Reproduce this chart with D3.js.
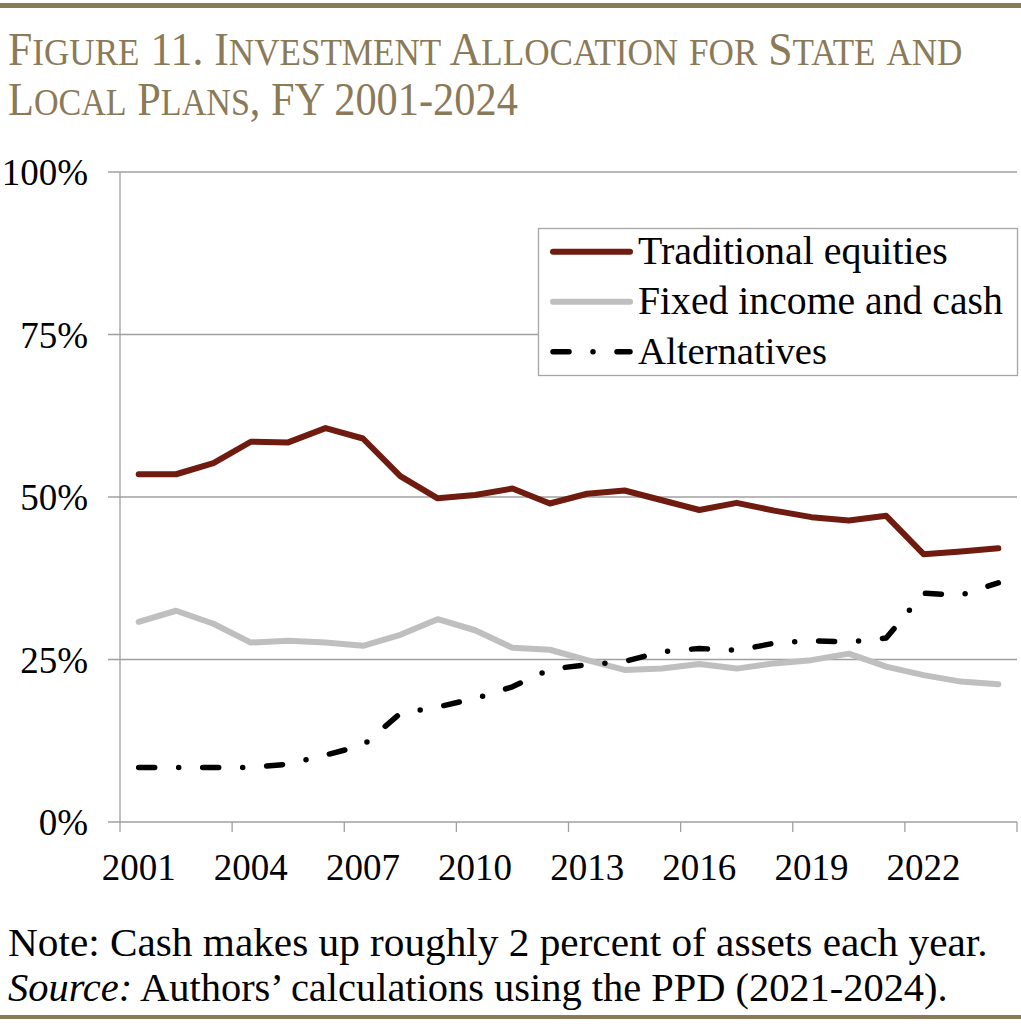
<!DOCTYPE html>
<html>
<head>
<meta charset="utf-8">
<script src="https://cdn.jsdelivr.net/npm/d3@7"></script>
<style>
  body { margin: 0; background: #fff; }
  svg { display: block; }
</style>
</head>
<body>
<div id="chart"></div>
<script>
// Data (percent of assets)
const years = ["2001", "2002", "2003", "2004", "2005", "2006", "2007", "2008",
    "2009", "2010", "2011", "2012", "2013", "2014", "2015", "2016",
    "2017", "2018", "2019", "2020", "2021", "2022", "2023", "2024"];
const tickYears = ["2001", "2004", "2007", "2010", "2013", "2016", "2019", "2022"];
const yTicks = [0, 25, 50, 75, 100];

const traditional = [53.5, 53.5, 55.2, 58.5, 58.4, 60.6, 59.0, 53.2, 49.8, 50.3, 51.3, 49.0,
    50.5, 51.0, 49.5, 48.0, 49.1, 47.9, 46.9, 46.4, 47.1, 41.2, 41.6, 42.1];
const fixedIncome = [30.8, 32.5, 30.5, 27.6, 27.9, 27.6, 27.1, 28.8, 31.2, 29.5, 26.8, 26.5,
    24.9, 23.4, 23.6, 24.3, 23.6, 24.4, 24.9, 25.9, 23.9, 22.6, 21.6, 21.2];
const alternatives = [8.4, 8.4, 8.4, 8.4, 8.9, 10.3, 11.8, 16.7, 17.7, 19.0, 20.8, 23.5,
    24.2, 24.7, 26.2, 26.7, 26.4, 27.5, 27.9, 27.7, 28.3, 35.2, 34.9, 36.8];

const seriesNames = ["Traditional equities", "Fixed income and cash", "Alternatives"];

const titleLines = ["Figure 11. Investment Allocation for State and", "Local Plans, FY 2001-2024"];
const noteText = "Note: Cash makes up roughly 2 percent of assets each year.";
const sourceLabel = "Source:";
const sourceText = " Authors\u2019 calculations using the PPD (2021-2024).";

const W = 1021, H = 1024;
const gold = "#8b7a58";
const serif = "'Liberation Serif', 'Times New Roman', serif";

const svg = d3.select("#chart")
    .append("svg")
    .attr("width", W)
    .attr("height", H)
    .style("font-family", serif);

// Top and bottom rules
svg.append("rect").attr("x", 0).attr("y", 3).attr("width", W).attr("height", 5).attr("fill", gold);
svg.append("rect").attr("x", 0).attr("y", 1015).attr("width", W).attr("height", 4).attr("fill", gold);

// squeeze a text group horizontally to a given width (the original uses a condensed Garamond)
function fitWidth(inner, width) {
    const w = inner.node().getBBox().width;
    inner.attr("transform", `scale(${width / w}, 1)`);
}

// Title in small caps
function smallCaps(text, x, y, width) {
    const outer = svg.append("g").attr("transform", `translate(${x}, ${y})`);
    const inner = outer.append("g");
    const t = inner.append("text").attr("fill", gold);
    const runs = [];
    for (const ch of text) {
        const small = ch !== ch.toUpperCase();
        const last = runs[runs.length - 1];
        if (last && last.small === small) last.s += ch;
        else runs.push({ small: small, s: ch });
    }
    runs.forEach(r => {
        t.append("tspan")
            .attr("font-size", r.small ? 37 : 46)
            .text(r.s.toUpperCase());
    });
    fitWidth(inner, width);
}
smallCaps(titleLines[0], 8, 65, 955);
smallCaps(titleLines[1], 8, 115, 510);

// Scales
const x = d3.scaleBand()
    .domain(years)
    .range([120, 1017])
    .padding(0);

const y = d3.scaleLinear()
    .domain([0, 100])
    .range([822, 172]);

const gridColor = "#a0a0a0";

// Gridlines
svg.append("g")
    .selectAll("line")
    .data(yTicks)
    .enter().append("line")
    .attr("x1", 108)
    .attr("x2", 1017)
    .attr("y1", d => y(d))
    .attr("y2", d => y(d))
    .attr("stroke", gridColor)
    .attr("stroke-width", 1.3);

// Y axis line
svg.append("line")
    .attr("x1", 120).attr("x2", 120)
    .attr("y1", y(100)).attr("y2", y(0))
    .attr("stroke", gridColor)
    .attr("stroke-width", 1.3);

// X tick marks at band edges
const tickEdges = tickYears.map(d => x(d)).concat([x.range()[1]]);
svg.append("g")
    .selectAll("line")
    .data(tickEdges)
    .enter().append("line")
    .attr("x1", d => d).attr("x2", d => d)
    .attr("y1", y(0)).attr("y2", y(0) + 10)
    .attr("stroke", gridColor)
    .attr("stroke-width", 1.3);

// X axis labels
const xAxis = svg.append("g")
    .attr("transform", `translate(0, ${y(0)})`)
    .call(d3.axisBottom(x).tickValues(tickYears).tickSize(0));
xAxis.select(".domain").remove();
xAxis.selectAll("text")
    .attr("y", 58)
    .attr("dy", 0)
    .style("font-family", serif)
    .style("font-size", "37px")
    .attr("fill", "#000");

// Y axis labels
const yAxis = svg.append("g")
    .attr("transform", "translate(120, 0)")
    .call(d3.axisLeft(y).tickValues(yTicks).tickFormat(d => d + "%").tickSize(0).tickPadding(32));
yAxis.select(".domain").remove();
yAxis.selectAll("text")
    .attr("dy", "0.35em")
    .style("font-family", serif)
    .style("font-size", "37px")
    .attr("fill", "#000");

// Lines
const line = d3.line()
    .x((d, i) => x(years[i]) + x.bandwidth() / 2)
    .y(d => y(d));

const styles = [
    { data: traditional, color: "#701b0f", width: 6, dash: null },
    { data: fixedIncome, color: "#bfbfbf", width: 6, dash: null },
    { data: alternatives, color: "#000000", width: 5.5, dash: "16,24,0,24" }
];

styles.forEach(s => {
    svg.append("path")
        .datum(s.data)
        .attr("d", line)
        .attr("fill", "none")
        .attr("stroke", s.color)
        .attr("stroke-width", s.width)
        .attr("stroke-linejoin", "round")
        .attr("stroke-linecap", "round")
        .attr("stroke-dasharray", s.dash);
});

// Legend
svg.append("rect")
    .attr("x", 538.5)
    .attr("y", 228.5)
    .attr("width", 479)
    .attr("height", 147)
    .attr("fill", "#fff")
    .attr("stroke", "#a6a6a6")
    .attr("stroke-width", 1.3);

const legendWidths = [310, 365, 189];
seriesNames.forEach((name, i) => {
    const ly = 251.7 + i * 50;
    svg.append("line")
        .attr("x1", 553).attr("x2", 630)
        .attr("y1", ly).attr("y2", ly)
        .attr("stroke", styles[i].color)
        .attr("stroke-width", styles[i].width)
        .attr("stroke-linecap", "round")
        .attr("stroke-dasharray", styles[i].dash);
    const outer = svg.append("g").attr("transform", `translate(638, ${ly + 12})`);
    const inner = outer.append("g");
    inner.append("text")
        .attr("font-size", 39)
        .attr("fill", "#000")
        .text(name);
    fitWidth(inner, legendWidths[i]);
});

// Note and source
const noteG = svg.append("g").attr("transform", "translate(8, 956)").append("g");
noteG.append("text").attr("font-size", 40).attr("fill", "#000").text(noteText);
fitWidth(noteG, 980);

const srcG = svg.append("g").attr("transform", "translate(8, 1001)").append("g");
const srcText = srcG.append("text").attr("font-size", 40).attr("fill", "#000");
srcText.append("tspan").attr("font-style", "italic").text(sourceLabel);
srcText.append("tspan").text(sourceText);
fitWidth(srcG, 940);
</script>
</body>
</html>
